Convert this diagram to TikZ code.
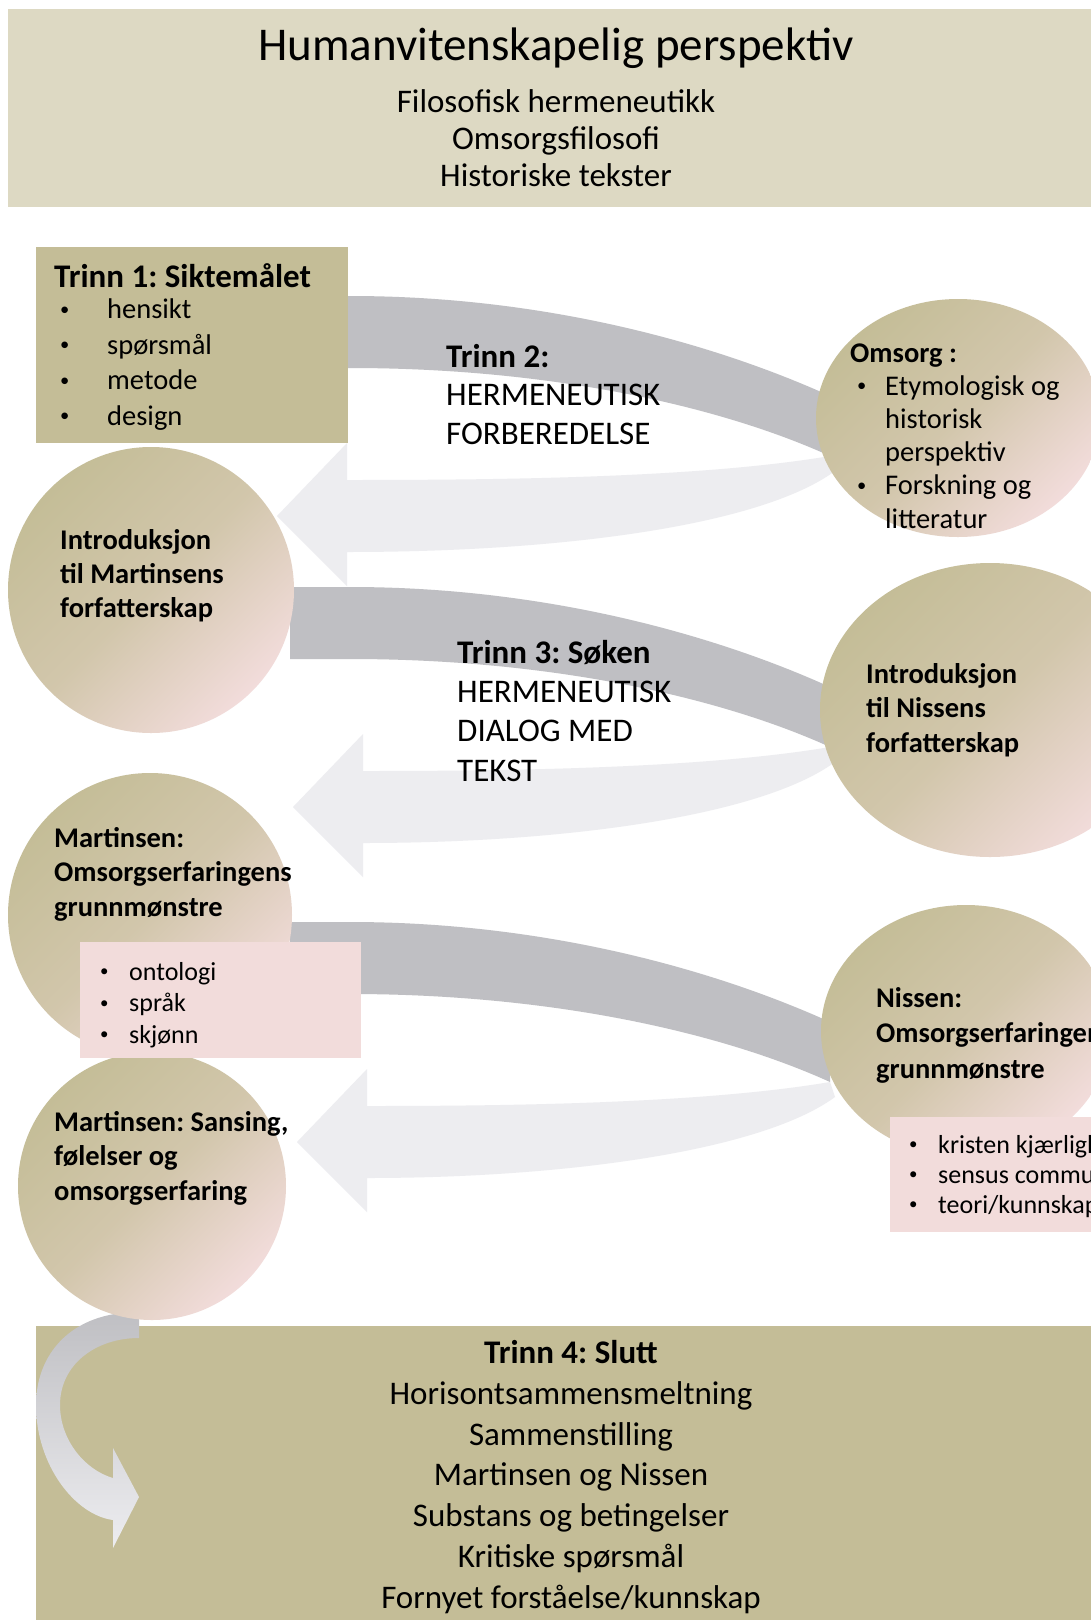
\documentclass[tikz,border=0pt]{standalone}
\usepackage{fontspec}
\setmainfont{Carlito}
\usetikzlibrary{shapes.geometric}
\frenchspacing

\definecolor{khaki}{RGB}{196,189,151}
\definecolor{sand}{RGB}{221,217,195}
\definecolor{rose}{RGB}{242,220,219}
\definecolor{bandgrey}{RGB}{191,191,195}
\definecolor{bandpale}{RGB}{237,237,240}

\newcommand{\bul}[2]{\makebox[#1][l]{\raisebox{.12em}{\scalebox{.65}{\textbullet}}}#2}
\newcommand{\loopband}[2]{%
  \pgfmathsetmacro{\bx}{#2+70}%
  \fill[bandpale] (835,#1+175) .. controls (760,#1+230) and (560,#1+256) .. (\bx,#1+256)
    -- (\bx,#1+290) -- (#2,#1+220) -- (\bx,#1+147) -- (\bx,#1+184)
    .. controls (500,#1+184) and (700,#1+182) .. (830,#1+160) -- cycle;
  \fill[bandgrey] (290,#1) -- (350,#1) .. controls (550,#1) and (720,#1+50) .. (830,#1+100)
    -- (830,#1+160) .. controls (720,#1+110) and (550,#1+72) .. (350,#1+72)
    -- (290,#1+72) -- cycle;
}

\begin{document}
\begin{tikzpicture}[x=1pt, y=-1pt,
      block/.style = {inner sep=0pt, anchor=north west},
      disc/.style = {inner sep=0pt, top color=khaki, bottom color=rose,
        middle color=khaki!70!rose, shading angle=45},
      txt/.style = {inner sep=0pt, anchor=base west, align=left}]
  \useasboundingbox (0,0) rectangle (1091,1620);
  \clip (0,0) rectangle (1091,1620);
  \fill[white] (0,0) rectangle (1091,1620);

  \node[block, fill=sand, minimum width=1090pt, minimum height=198pt] (banner) at (8,9) {};

  \loopband{296}{277}
  \loopband{587}{293}
  \loopband{922}{297}

  \node[block, fill=khaki, minimum width=1060pt, minimum height=300pt] (endbox) at (36,1326) {};
  \path[top color=bandgrey, bottom color=bandpale, middle color=bandgrey!50!bandpale]
    (139,1312) .. controls (70,1312) and (36,1355) .. (36,1405)
    .. controls (36,1465) and (75,1515) .. (113,1520) -- (113,1548) -- (139,1497)
    -- (113,1448) -- (113,1478) .. controls (85,1470) and (60,1440) .. (60,1405)
    .. controls (60,1365) and (95,1338) .. (139,1338) -- cycle;

  \node[block, fill=khaki, minimum width=312pt, minimum height=196pt] (aimbox) at (36,247) {};
  \node[disc, circle, minimum size=286pt] (introM) at (151,590) {};
  \node[disc, circle, minimum size=284pt] (patternM) at (150,915) {};
  \node[disc, circle, minimum size=268pt] (senseM) at (152,1186) {};
  \node[disc, ellipse, minimum width=284pt, minimum height=238pt] (care) at (958,418) {};
  \node[disc, ellipse, minimum width=340pt, minimum height=294pt] (introN) at (990,710) {};
  \node[disc, ellipse, minimum width=290pt, minimum height=252pt] (patternN) at (966,1031) {};
  \node[block, fill=rose, minimum width=281pt, minimum height=116pt] (listbox) at (80,942) {};
  \node[block, fill=rose, minimum width=210pt, minimum height=115pt] (nlistbox) at (890,1117) {};

  \node[anchor=base, inner sep=0pt, font=\fontsize{47}{56}\selectfont] (title) at (556,60)
    {Humanvitenskapelig perspektiv};
  \node[anchor=base, inner sep=0pt, align=center, font=\fontsize{33}{37}\selectfont] (sources) at (556,186)
    {Filosofisk hermeneutikk\\Omsorgsfilosofi\\Historiske tekster};

  \node[txt, font=\bfseries\fontsize{33}{40}\selectfont] (aimhead) at (54,287) {Trinn 1: Siktemålet};
  \node[txt, font=\fontsize{28.5}{35.5}\selectfont] (aimlist) at (60,425)
    {\bul{47pt}{hensikt}\\\bul{47pt}{spørsmål}\\\bul{47pt}{metode}\\\bul{47pt}{design}};
  \node[txt, font=\fontsize{33}{38.5}\selectfont] (step2) at (446,444)
    {\textbf{Trinn 2:}\\HERMENEUTISK\\FORBEREDELSE};
  \node[txt, font=\fontsize{28.5}{33.2}\selectfont] (caretext) at (850,528)
    {\textbf{Omsorg :}\\\hspace*{7pt}\bul{28pt}{Etymologisk og}\\\hspace*{35pt}historisk\\
     \hspace*{35pt}perspektiv\\\hspace*{7pt}\bul{28pt}{Forskning og}\\\hspace*{35pt}litteratur};
  \node[txt, font=\bfseries\fontsize{28.5}{34}\selectfont] (introMtext) at (60,617)
    {Introduksjon\\til Martinsens\\forfatterskap};
  \node[txt, font=\fontsize{33}{39.3}\selectfont] (step3) at (457,781)
    {\textbf{Trinn 3: Søken}\\HERMENEUTISK\\DIALOG MED\\TEKST};
  \node[txt, font=\bfseries\fontsize{28.5}{34.5}\selectfont] (introNtext) at (866,752)
    {Introduksjon\\til Nissens\\forfatterskap};
  \node[txt, font=\bfseries\fontsize{28.5}{34.5}\selectfont] (patternMtext) at (54,916)
    {Martinsen:\\Omsorgserfaringens\\grunnmønstre};
  \node[txt, font=\fontsize{26}{31.5}\selectfont] (listtext) at (100,1043)
    {\bul{29pt}{ontologi}\\\bul{29pt}{språk}\\\bul{29pt}{skjønn}};
  \node[txt, font=\bfseries\fontsize{28.5}{35.5}\selectfont] (patternNtext) at (876,1078)
    {Nissen:\\Omsorgserfaringens\\grunnmønstre};
  \node[txt, font=\fontsize{26}{30}\selectfont] (nlisttext) at (909,1213)
    {\bul{29pt}{kristen kjærlighet}\\\bul{29pt}{sensus communis}\\\bul{29pt}{teori/kunnskap}};
  \node[txt, font=\bfseries\fontsize{28.5}{34.5}\selectfont] (senseMtext) at (54,1200)
    {Martinsen: Sansing,\\følelser og\\omsorgserfaring};
  \node[anchor=base, inner sep=0pt, align=center, font=\fontsize{33}{40.7}\selectfont] (endtext) at (571,1608)
    {\textbf{Trinn 4: Slutt}\\Horisontsammensmeltning\\Sammenstilling\\Martinsen og Nissen\\
     Substans og betingelser\\Kritiske spørsmål\\Fornyet forståelse/kunnskap};
\end{tikzpicture}
\end{document}
